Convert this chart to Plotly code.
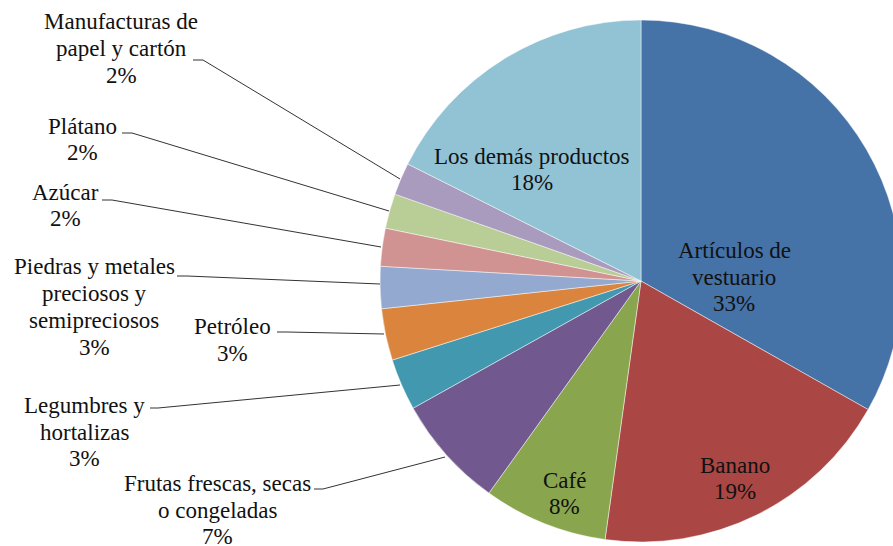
import plotly.graph_objects as go

# ---- data ----
categories = ["Artículos de vestuario", "Banano", "Café", "Frutas frescas, secas o congeladas",
              "Legumbres y hortalizas", "Petróleo", "Piedras y metales preciosos y semipreciosos",
              "Azúcar", "Plátano", "Manufacturas de papel y cartón", "Los demás productos"]
values = [33.2, 19.0, 7.7, 7.0, 3.2, 3.2, 2.6, 2.35, 2.15, 2.0, 17.6]
label_lines = [["Artículos de", "vestuario"], ["Banano"], ["Café"], ["Frutas frescas, secas", "o congeladas"],
               ["Legumbres y", "hortalizas"], ["Petróleo"], ["Piedras y metales", "preciosos y", "semipreciosos"],
               ["Azúcar"], ["Plátano"], ["Manufacturas de", "papel y cartón"], ["Los demás productos"]]
colors = ["#4572A7", "#AA4643", "#89A54E", "#71588F", "#4198AF", "#DB843D",
          "#93A9CF", "#D19392", "#B9CD96", "#A99BBD", "#92C3D5"]

W, H = 910, 546

def px(x, y):
    return x / W, 1 - y / H

# label block centres (pixels) and leader-line paths (pixels)
label_pos = [(734, 277), (735, 478.5), (564, 493.5), (217, 510), (84, 432), (233, 340),
             (94, 307), (65, 205.5), (82, 139.5), (121, 48.5), (532, 169.5)]
LINE_H = 26.8
leaders = {
    3: [(314, 489), (323, 489), (445, 457)],
    4: [(150, 408), (158, 408), (400, 385)],
    5: [(277, 332), (287, 332), (384, 334)],
    6: [(177, 276), (187, 276), (380, 284)],
    7: [(102, 200), (112, 200), (381, 247)],
    8: [(122, 133), (132, 133), (389, 211)],
    9: [(193, 60), (203, 60), (400, 179)],
}

x0, y0 = px(380, 542)
x1, y1 = px(902, 20)
fig = go.Figure(go.Pie(
    labels=categories, values=values, sort=False, direction="clockwise", rotation=0,
    marker=dict(colors=colors, line=dict(color="rgba(255,255,255,0.6)", width=0.8)),
    textinfo="none", hoverinfo="label+percent", showlegend=False,
    domain=dict(x=[x0, x1], y=[y0, y1]),
))

FONT = "Liberation Serif, Times New Roman, Times, serif"
annotations = []
for i, (lines, v) in enumerate(zip(label_lines, values)):
    rows = lines + [f"{round(v)}%"]
    cx, cy = label_pos[i]
    n = len(rows)
    for j, row in enumerate(rows):
        x, y = px(cx, cy + (j - (n - 1) / 2) * LINE_H)
        annotations.append(dict(
            x=x, y=y, xref="paper", yref="paper", xanchor="center", yanchor="middle",
            text=row, showarrow=False, align="center",
            font=dict(family=FONT, size=23, color="#111111")))

shapes = []
for i, pts in leaders.items():
    p = [px(a, b) for a, b in pts]
    path = "M " + " L ".join(f"{a},{b}" for a, b in p)
    shapes.append(dict(type="path", xref="paper", yref="paper", path=path,
                       line=dict(color="#333333", width=1)))

fig.update_layout(width=W, height=H, margin=dict(l=0, r=0, t=0, b=0),
                  paper_bgcolor="white", plot_bgcolor="white",
                  font=dict(family=FONT),
                  annotations=annotations, shapes=shapes)

fig.write_html("out.html", config={"displayModeBar": False},
               post_script="document.body.style.margin='0';"
                           "document.body.style.overflow='hidden';"
                           "document.documentElement.style.overflow='hidden';")
